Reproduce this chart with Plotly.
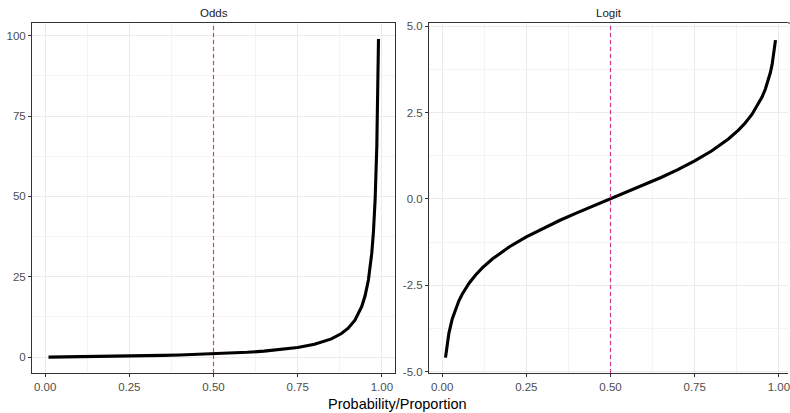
import plotly.graph_objects as go

# Probability values (x) and readings of each transformed curve
prob = [0.01, 0.02, 0.03, 0.04, 0.05, 0.06, 0.08, 0.10, 0.12, 0.15, 0.20, 0.25,
        0.30, 0.35, 0.40, 0.45, 0.50, 0.55, 0.60, 0.65, 0.70, 0.75, 0.80, 0.85,
        0.88, 0.90, 0.92, 0.94, 0.95, 0.96, 0.97, 0.975, 0.98, 0.985, 0.99]
odds = [0.0101, 0.0204, 0.0309, 0.0417, 0.0526, 0.0638, 0.087, 0.111, 0.136, 0.176,
        0.25, 0.333, 0.429, 0.538, 0.667, 0.818, 1.0, 1.222, 1.5, 1.857, 2.333, 3.0,
        4.0, 5.667, 7.333, 9.0, 11.5, 15.67, 19.0, 24.0, 32.33, 39.0, 49.0, 65.67, 99.0]
logit = [-4.595, -3.892, -3.476, -3.178, -2.944, -2.752, -2.442, -2.197, -1.992, -1.735,
         -1.386, -1.099, -0.847, -0.619, -0.405, -0.201, 0.0, 0.201, 0.405, 0.619, 0.847,
         1.099, 1.386, 1.735, 1.992, 2.197, 2.442, 2.752, 2.944, 3.178, 3.476, 3.664,
         3.892, 4.19, 4.595]

panel_titles = ["Odds", "Logit"]
x_ticks = [0.0, 0.25, 0.5, 0.75, 1.0]
x_tick_labels = ["0.00", "0.25", "0.50", "0.75", "1.00"]
odds_ticks = [0, 25, 50, 75, 100]
odds_tick_labels = ["0", "25", "50", "75", "100"]
logit_ticks = [-5.0, -2.5, 0.0, 2.5, 5.0]
logit_tick_labels = ["-5.0", "-2.5", "0.0", "2.5", "5.0"]
ref_line = 0.5

W, H = 790, 413
FONT = "Liberation Sans, Arial, sans-serif"
GRID = "#EBEBEB"
MINOR = "#F4F4F4"
BORDER = "#333333"
TICKC = "#4D4D4D"
DASHC = "#D4398F"

fig = go.Figure()
fig.add_trace(go.Scatter(x=prob, y=odds, mode="lines", xaxis="x", yaxis="y",
                         line=dict(color="black", width=3.1), showlegend=False))
fig.add_trace(go.Scatter(x=prob, y=logit, mode="lines", xaxis="x2", yaxis="y2",
                         line=dict(color="black", width=3.1), showlegend=False))

L1, R1 = 32, 395
L2, R2 = 429, 792      # full (virtual) extent of the right panel
R2_VIS = 788           # visible right end of the right panel
TOP, BOT = 23, 373

def px_x(p):
    return p / W

def px_y(p):
    return 1 - p / H

common_x = dict(range=[-0.039, 1.039], tickvals=x_ticks, ticktext=x_tick_labels,
                showgrid=True, gridcolor=GRID, gridwidth=1, automargin=False,
                ticklabeloverflow="allow",
                minor=dict(showgrid=True, gridcolor=MINOR, gridwidth=0.8, dtick=0.125, tick0=0.125),
                zeroline=False, showline=True, linecolor=BORDER, linewidth=1, mirror=True,
                ticks="outside", ticklen=3, tickcolor=BORDER, tickwidth=1,
                tickfont=dict(family=FONT, size=11.5, color=TICKC), fixedrange=True)
common_y = dict(showgrid=True, gridcolor=GRID, gridwidth=1, zeroline=False, automargin=False,
                showline=True, linecolor=BORDER, linewidth=1, mirror=True,
                ticks="outside", ticklen=3, tickcolor=BORDER, tickwidth=1,
                tickfont=dict(family=FONT, size=11.5, color=TICKC), fixedrange=True)

x2_range_end = -0.039 + 1.078 * (R2_VIS - L2) / (R2 - L2)

fig.update_layout(
    width=W, height=H,
    margin=dict(l=0, r=0, t=0, b=0, autoexpand=False),
    paper_bgcolor="white", plot_bgcolor="white",
    xaxis=dict(domain=[px_x(L1), px_x(R1)], anchor="y", **common_x),
    yaxis=dict(domain=[px_y(BOT), px_y(TOP)], anchor="x", range=[-4.94, 103.95],
               tickvals=odds_ticks, ticktext=odds_tick_labels,
               minor=dict(showgrid=True, gridcolor=MINOR, gridwidth=0.8, dtick=25, tick0=12.5),
               **common_y),
    xaxis2=dict(domain=[px_x(L2), px_x(R2_VIS)], anchor="y2",
                **{**common_x, "range": [-0.039, x2_range_end]}),
    yaxis2=dict(domain=[px_y(BOT), px_y(TOP)], anchor="x2", range=[-5.04, 5.09],
                tickvals=logit_ticks, ticktext=logit_tick_labels,
                minor=dict(showgrid=True, gridcolor=MINOR, gridwidth=0.8, dtick=2.5, tick0=-3.75),
                **{**common_y, "mirror": False}),
    shapes=[
        dict(type="line", xref="x", yref="y domain", x0=ref_line, x1=ref_line, y0=0, y1=1,
             line=dict(color=DASHC, width=1.2, dash="4px,3px")),
        dict(type="line", xref="x2", yref="y2 domain", x0=ref_line, x1=ref_line, y0=0, y1=1,
             line=dict(color=DASHC, width=1.2, dash="4px,3px")),
        # extend the right panel's top border to the page edge
        dict(type="line", xref="paper", yref="paper", x0=px_x(R2_VIS), x1=1.0,
             y0=px_y(TOP), y1=px_y(TOP), line=dict(color=BORDER, width=1)),
    ],
    annotations=[
        dict(text=panel_titles[0], xref="paper", yref="paper",
             x=(px_x(L1) + px_x(R1)) / 2, y=px_y(13), xanchor="center", yanchor="middle",
             showarrow=False, font=dict(family=FONT, size=11.5, color="#1A1A1A")),
        dict(text=panel_titles[1], xref="paper", yref="paper",
             x=px_x(609), y=px_y(13), xanchor="center", yanchor="middle",
             showarrow=False, font=dict(family=FONT, size=11.5, color="#1A1A1A")),
        dict(text="Probability/Proportion", xref="paper", yref="paper",
             x=px_x(397), y=px_y(404), xanchor="center", yanchor="middle",
             showarrow=False, font=dict(family=FONT, size=14.5, color="black")),
    ],
)

fig.write_html("out.html", config={"displayModeBar": False},
               post_script="document.body.style.margin='0';document.body.style.overflow='hidden';")
